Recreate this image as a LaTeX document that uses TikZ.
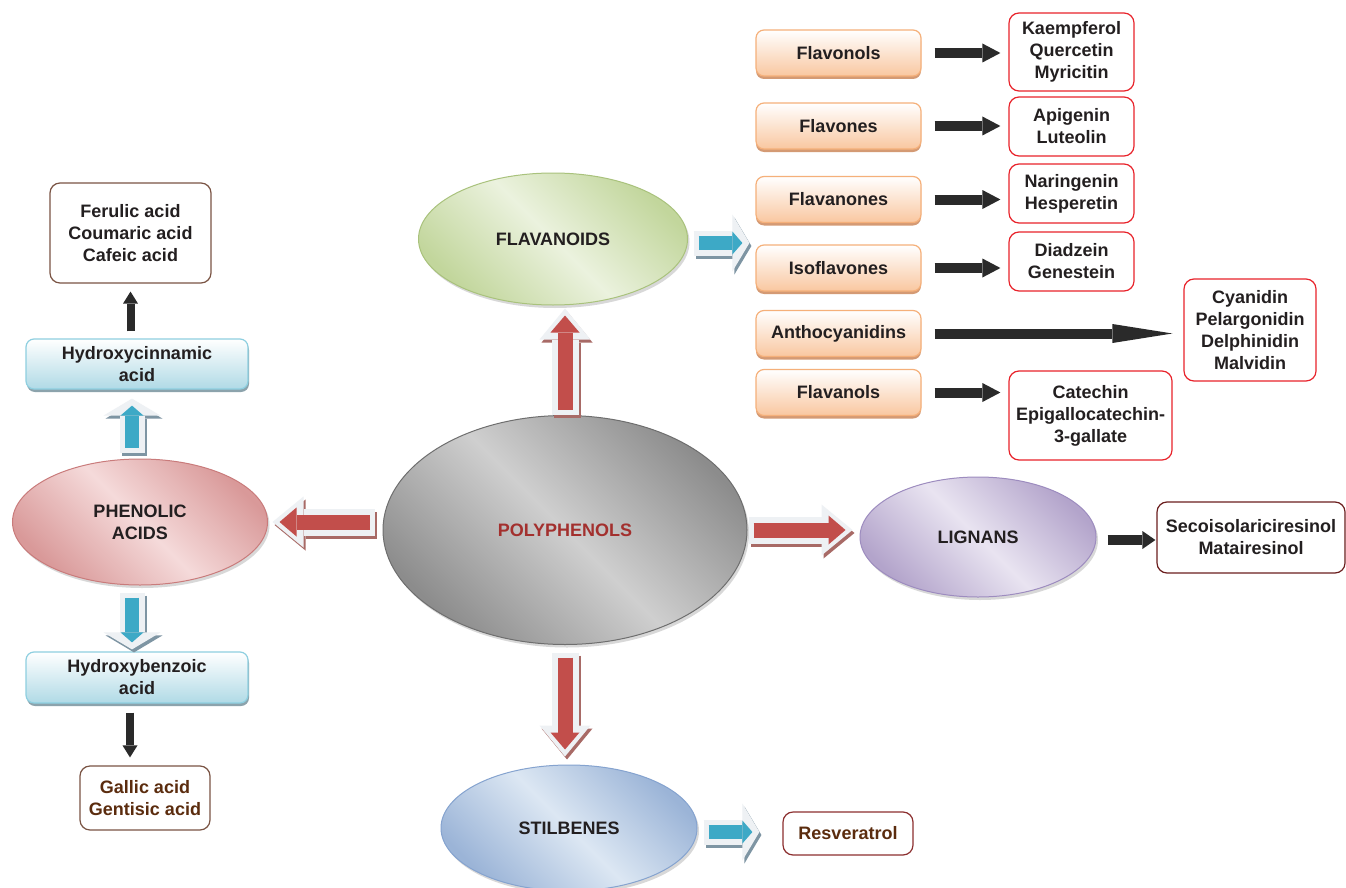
\documentclass[tikz,border=0pt]{standalone}
\usepackage{fontspec}
\setmainfont{Liberation Sans}
\usetikzlibrary{shapes.geometric,arrows.meta,shadows,calc}
\definecolor{txt}{HTML}{231F20}
\definecolor{brn}{HTML}{5B2C0E}
\definecolor{polyred}{HTML}{A3302E}
\definecolor{oborder}{HTML}{F5B07A}
\definecolor{ofill}{HTML}{F9C7A0}
\definecolor{oshadow}{HTML}{D49A74}
\definecolor{bborder}{HTML}{8ECFE0}
\definecolor{bfill}{HTML}{B0DAE6}
\definecolor{bshadow}{HTML}{8CA3AC}
\definecolor{rborder}{HTML}{E8232B}
\definecolor{dkborder}{HTML}{6B1E1E}
\definecolor{brborder}{HTML}{7A5444}
\definecolor{resvborder}{HTML}{8C2F2F}
\definecolor{arrred}{HTML}{C24E4B}
\definecolor{arrblue}{HTML}{3DA9C6}
\definecolor{arrblack}{HTML}{2A2A2A}
\definecolor{bevelc}{HTML}{EEF1F4}
\definecolor{rdshadow}{HTML}{A86A66}
\definecolor{blshadow}{HTML}{7E95A3}
\definecolor{polydark}{HTML}{8C8C8C}
\definecolor{polylight}{HTML}{CFCFCF}
\definecolor{polyborder}{HTML}{6E6E6E}
\definecolor{flavdark}{HTML}{C2D69C}
\definecolor{flavlight}{HTML}{EBF2DE}
\definecolor{flavborder}{HTML}{A9C27C}
\definecolor{phendark}{HTML}{D99999}
\definecolor{phenlight}{HTML}{F5DADA}
\definecolor{phenborder}{HTML}{C97B7B}
\definecolor{ligdark}{HTML}{B3A4CB}
\definecolor{liglight}{HTML}{E9E4F1}
\definecolor{ligborder}{HTML}{9D8CBF}
\definecolor{stildark}{HTML}{9BB4D7}
\definecolor{stillight}{HTML}{DCE7F3}
\definecolor{stilborder}{HTML}{85A3CF}
\newcommand{\bevelarrow}[5]{%
  \draw[#1out, draw=#1shadow, shorten <=#2, shorten >=#3, transform canvas={xshift=2pt,yshift=-3pt}] #4 -- #5;
  \draw[#1out, draw=bevelc, shorten <=#2, shorten >=#3] #4 -- #5;
  \draw[#1in, shorten <=#2+5pt, shorten >=#3+7pt] #4 -- #5;}
\begin{document}
\begin{tikzpicture}[x=1pt,y=-1pt,
  lbl/.style={font=\fontsize{18}{22}\selectfont\bfseries, text=txt, align=center, inner sep=0pt},
  obox/.style={lbl, rectangle, rounded corners=8pt, draw=oborder, line width=1.2pt,
    top color=white, bottom color=ofill, minimum width=165pt, minimum height=46pt,
    drop shadow={shadow xshift=0pt, shadow yshift=-3pt, fill=oshadow, opacity=1}},
  bbox/.style={lbl, rectangle, rounded corners=8pt, draw=bborder, line width=1.2pt,
    top color=white, bottom color=bfill, minimum width=222pt,
    drop shadow={shadow xshift=1pt, shadow yshift=-3pt, fill=bshadow, opacity=1}},
  rbox/.style={lbl, rectangle, rounded corners=10pt, draw=rborder, line width=1.2pt, fill=white},
  ell/.style={lbl, ellipse, inner sep=0pt, line width=1pt,
    drop shadow={shadow xshift=2pt, shadow yshift=-3pt, fill=black!25, opacity=0.6}},
  blk/.style={line width=10pt, draw=arrblack, -{Triangle[length=18pt,width=19pt,line width=0pt]}},
  blkv/.style={line width=8pt, draw=arrblack, -{Triangle[length=12pt,width=15pt,line width=0pt]}},
  rdout/.style={line width=27pt, -{Triangle[length=31pt,width=51pt,line width=0pt]}},
  rdin/.style={line width=15pt, draw=arrred, -{Triangle[length=17pt,width=29pt,line width=0pt]}},
  blout/.style={line width=25pt, -{Triangle[length=17pt,width=57pt,line width=0pt]}},
  blin/.style={line width=14pt, draw=arrblue, -{Triangle[length=10pt,width=23pt,line width=0pt]}}
]
\useasboundingbox (0,0) rectangle (1346,888);
\fill[white] (0,0) rectangle (1346,888);

% ellipses
\node[ell, minimum width=364pt, minimum height=229pt, draw=polyborder,
  top color=polydark, bottom color=polydark, middle color=polylight, shading angle=-45,
  text=polyred] (poly) at (565,530) {POLYPHENOLS};
\node[ell, minimum width=269pt, minimum height=132pt, draw=flavborder,
  top color=flavdark, bottom color=flavdark, middle color=flavlight, shading angle=-45]
  (flav) at (553,239) {FLAVANOIDS};
\node[ell, minimum width=255pt, minimum height=126pt, draw=phenborder,
  top color=phendark, bottom color=phendark, middle color=phenlight, shading angle=-45]
  (phen) at (140,522) {PHENOLIC\\ACIDS};
\node[ell, minimum width=236pt, minimum height=120pt, draw=ligborder,
  top color=ligdark, bottom color=ligdark, middle color=liglight, shading angle=-45]
  (lign) at (978,537) {LIGNANS};
\node[ell, minimum width=256pt, minimum height=126pt, draw=stilborder,
  top color=stildark, bottom color=stildark, middle color=stillight, shading angle=-45]
  (stil) at (569,828) {STILBENES};

% flavonoid subclasses
\node[obox] (fl1) at (838.5,53) {Flavonols};
\node[obox] (fl2) at (838.5,126) {Flavones};
\node[obox] (fl3) at (838.5,199.5) {Flavanones};
\node[obox] (fl4) at (838.5,268) {Isoflavones};
\node[obox] (fl5) at (838.5,333.5) {Anthocyanidins};
\node[obox] (fl6) at (838.5,392.5) {Flavanols};

% compounds
\node[rbox, minimum width=125pt, minimum height=78pt] (r1) at (1071.5,52) {Kaempferol\\Quercetin\\Myricitin};
\node[rbox, minimum width=125pt, minimum height=59pt] (r2) at (1071.5,126.5) {Apigenin\\Luteolin};
\node[rbox, minimum width=125pt, minimum height=59pt] (r3) at (1071.5,193.5) {Naringenin\\Hesperetin};
\node[rbox, minimum width=125pt, minimum height=59pt] (r4) at (1071.5,261.5) {Diadzein\\Genestein};
\node[rbox, minimum width=132pt, minimum height=102pt] (r5) at (1250,330) {Cyanidin\\Pelargonidin\\Delphinidin\\Malvidin};
\node[rbox, minimum width=163pt, minimum height=89pt] (r6) at (1090.5,415.5) {Catechin\\Epigallocatechin-\\3-gallate};
\node[rbox, draw=dkborder, minimum width=188pt, minimum height=71pt] (seco) at (1251,537.5) {Secoisolariciresinol\\Matairesinol};
\node[rbox, draw=resvborder, text=brn, minimum width=130pt, minimum height=43pt] (resv) at (848,833.5) {Resveratrol};

% phenolic acids branch
\node[rbox, draw=brborder, minimum width=161pt, minimum height=100pt] (fer) at (130.5,233) {Ferulic acid\\Coumaric acid\\Cafeic acid};
\node[bbox, minimum height=50pt] (hcin) at (137,364) {Hydroxycinnamic\\acid};
\node[bbox, minimum height=51pt] (hbenz) at (137,677.5) {Hydroxybenzoic\\acid};
\node[rbox, draw=brborder, text=brn, minimum width=130pt, minimum height=64pt] (gal) at (145,798) {Gallic acid\\Gentisic acid};

% red bevel arrows from polyphenols
\bevelarrow{rd}{0pt}{3pt}{(poly.north)}{(poly.north |- flav.south)}
\bevelarrow{rd}{8pt}{4.5pt}{(phen.east -| poly.west)}{(phen.east)}
\bevelarrow{rd}{1pt}{7pt}{(poly.east)}{(poly.east -| lign.west)}
\bevelarrow{rd}{7.5pt}{8pt}{(poly.south)}{(poly.south |- stil.north)}

% blue bevel arrows
\bevelarrow{bl}{5.5pt}{6pt}{($(flav.east)+(0,4)$)}{($(flav.east -| fl4.west)+(0,4)$)}
\bevelarrow{bl}{6pt}{9pt}{($(hcin.south |- phen.north)+(-5,0)$)}{($(hcin.south)+(-5,0)$)}
\bevelarrow{bl}{7pt}{2pt}{($(hbenz.north |- phen.south)+(-5,0)$)}{($(hbenz.north)+(-5,0)$)}
\bevelarrow{bl}{6pt}{23pt}{($(stil.east)+(0,4)$)}{($(stil.east -| resv.west)+(0,4)$)}

% black arrows
\draw[blk, shorten <=13pt, shorten >=8pt] (fl1.east) -- (fl1.east -| r1.west);
\draw[blk, shorten <=13pt, shorten >=8pt] (fl2.east) -- (fl2.east -| r2.west);
\draw[blk, shorten <=13pt, shorten >=8pt] (fl3.east) -- (fl3.east -| r3.west);
\draw[blk, shorten <=13pt, shorten >=8pt] (fl4.east) -- (fl4.east -| r4.west);
\draw[line width=10pt, draw=arrblack, -{Triangle[length=60pt,width=19pt,line width=0pt]},
  shorten <=13pt, shorten >=11pt] (fl5.east) -- (fl5.east -| r5.west);
\draw[blk, shorten <=13pt, shorten >=8pt] (fl6.east) -- (fl6.east -| r6.west);
\draw[line width=10pt, draw=arrblack, -{Triangle[length=13pt,width=18pt,line width=0pt]},
  shorten <=11pt, shorten >=1pt] ($(lign.east)+(0,3)$) -- ($(lign.east -| seco.west)+(0,3)$);
\draw[blkv, shorten <=7pt, shorten >=8pt] (fer.south |- hcin.north) -- (fer.south);
\draw[blkv, shorten <=9pt, shorten >=8pt] ($(hbenz.south)+(-7,0)$) -- ($(hbenz.south |- gal.north)+(-7,0)$);
\end{tikzpicture}
\end{document}
